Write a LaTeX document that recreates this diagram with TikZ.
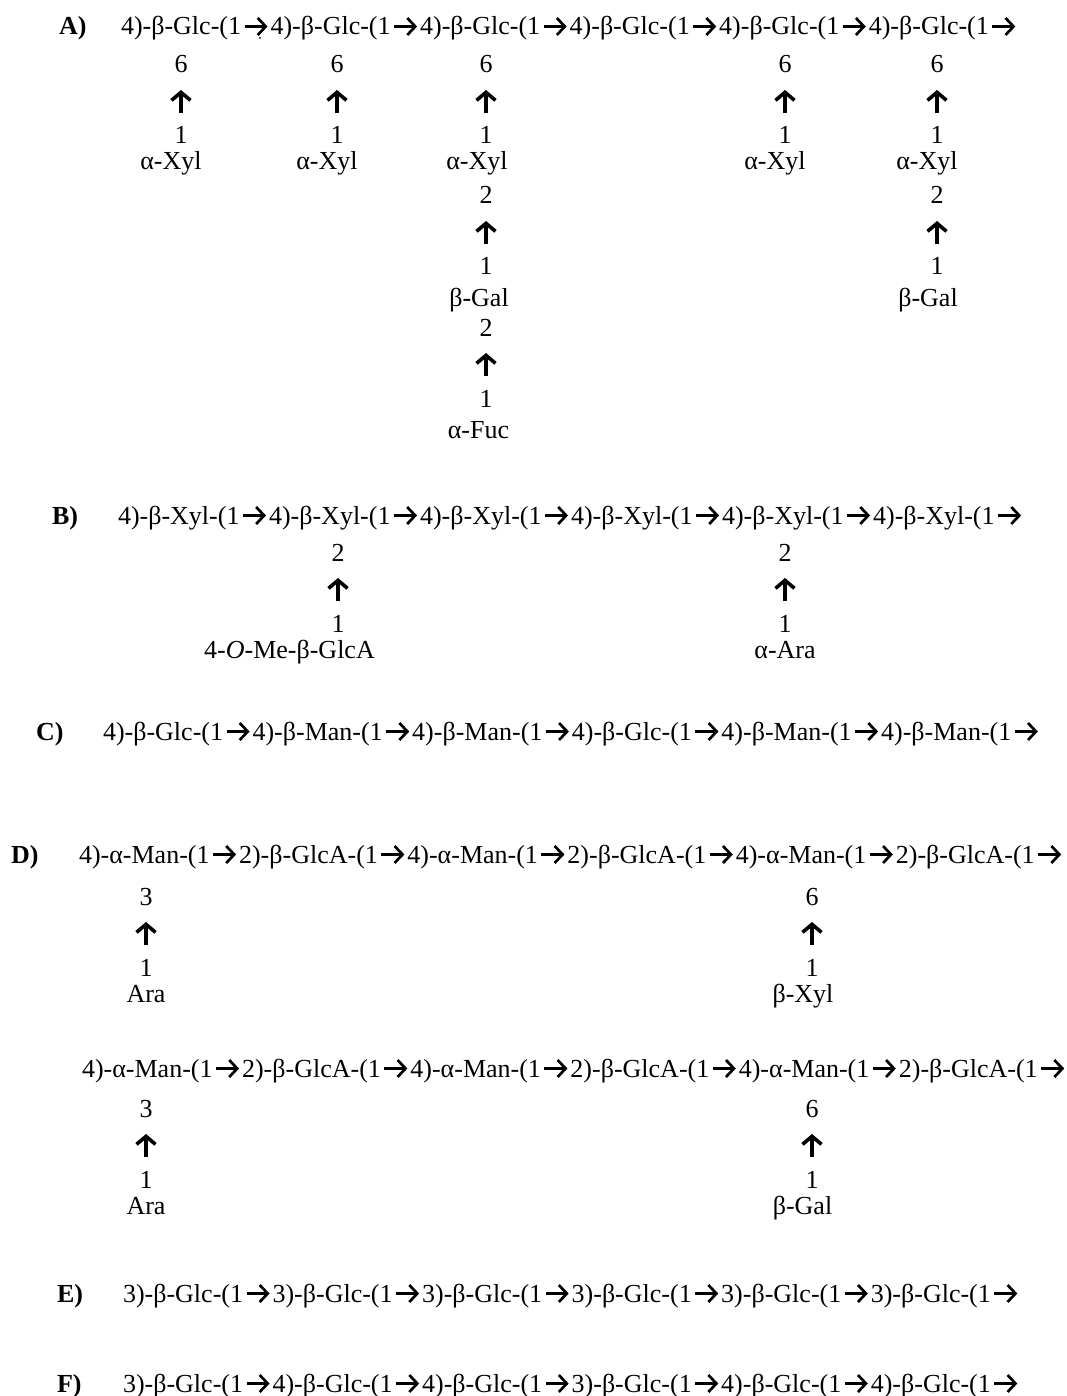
\documentclass[tikz,border=0pt]{standalone}
\usepackage{fontspec}
\setmainfont{Liberation Serif}
\usetikzlibrary{arrows.meta}
\tikzset{
  x=1pt,y=-1pt,
  seg/.style={inner sep=0pt,outer sep=0pt,anchor=base west,font=\fontsize{26}{26}\selectfont},
  lab/.style={inner sep=0pt,outer sep=0pt,anchor=base,font=\fontsize{26}{26}\selectfont},
  letter/.style={inner sep=0pt,outer sep=0pt,anchor=base west,font=\fontsize{26}{26}\selectfont\bfseries},
  bond/.style={line width=2.7pt,shorten <=3.5pt,shorten >=3pt,-{Straight Barb[length=8pt,width=17pt,line width=2.7pt]}},
  up/.style={line width=4.2pt,-{Straight Barb[length=8pt,width=19pt,line width=3.6pt]}}
}
\newcommand{\chainsix}[8]{%
  \node[seg] (#1a) at (#2,#3) {#4};
  \foreach \p/\q/\t in {a/b/#5,b/c/#6,c/d/#7,d/e/#8}{
    \node[seg,at={([xshift=29.5pt]#1\p.base east)}] (#1\q) {\t};
    \draw[bond] ([yshift=8.5pt]#1\p.base east) -- ([yshift=8.5pt]#1\q.base west);
  }%
}
\newcommand{\chainend}[4]{%
  \node[seg,at={([xshift=29.5pt]#1#2.base east)}] (#1#3) {#4};
  \draw[bond] ([yshift=8.5pt]#1#2.base east) -- ([yshift=8.5pt]#1#3.base west);
  \coordinate (#1z) at ([xshift=29.5pt,yshift=8.5pt]#1#3.base east);
  \draw[bond] ([yshift=8.5pt]#1#3.base east) -- (#1z);
}
\newcommand{\link}[5]{%
  \node[lab] (#1u) at (#2,#3) {#4};
  \node[lab] (#1l) at (#2,#3+71) {#5};
  \coordinate (#1s) at (#2,#3+40);
  \coordinate (#1t) at (#2,#3+17);
  \draw[up] (#1s) -- (#1t);
}
\begin{document}
\begin{tikzpicture}
\useasboundingbox (0,0) rectangle (1066,1396);
% A
\node[letter] (LA) at (59,35) {A)};
\chainsix{A}{121}{35}{4)-β-Glc-(1}{4)-β-Glc-(1}{4)-β-Glc-(1}{4)-β-Glc-(1}{4)-β-Glc-(1}
\chainend{A}{e}{f}{4)-β-Glc-(1}
\fill (260,38) circle (1pt);
\link{a1}{181}{73}{6}{1}
\link{a2}{337}{73}{6}{1}
\link{a3}{486}{73}{6}{1}
\link{a4}{785}{73}{6}{1}
\link{a5}{937}{73}{6}{1}
\node[lab] (a1x) at (171,170) {α-Xyl};
\node[lab] (a2x) at (327,170) {α-Xyl};
\node[lab] (a3x) at (477,170) {α-Xyl};
\node[lab] (a4x) at (775,170) {α-Xyl};
\node[lab] (a5x) at (927,170) {α-Xyl};
\link{a6}{486}{204}{2}{1}
\link{a7}{937}{204}{2}{1}
\node[lab] (a6x) at (479,306) {β-Gal};
\node[lab] (a7x) at (928,306) {β-Gal};
\link{a8}{486}{336}{2}{1}
\node[lab] (a8x) at (478.5,438) {α-Fuc};
% B
\node[letter] (LB) at (52,524) {B)};
\chainsix{B}{118}{524}{4)-β-Xyl-(1}{4)-β-Xyl-(1}{4)-β-Xyl-(1}{4)-β-Xyl-(1}{4)-β-Xyl-(1}
\chainend{B}{e}{f}{4)-β-Xyl-(1}
\link{b1}{338}{561}{2}{1}
\link{b2}{785}{561}{2}{1}
\node[lab] (b1x) at (289.5,658) {4-\textit{O}-Me-β-GlcA};
\node[lab] (b2x) at (785,658) {α-Ara};
% C
\node[letter] (LC) at (36,740) {C)};
\chainsix{C}{103}{740}{4)-β-Glc-(1}{4)-β-Man-(1}{4)-β-Man-(1}{4)-β-Glc-(1}{4)-β-Man-(1}
\chainend{C}{e}{f}{4)-β-Man-(1}
% D
\node[letter] (LD) at (11,863) {D)};
\chainsix{D}{79}{863}{4)-α-Man-(1}{2)-β-GlcA-(1}{4)-α-Man-(1}{2)-β-GlcA-(1}{4)-α-Man-(1}
\chainend{D}{e}{f}{2)-β-GlcA-(1}
\link{d1}{146}{905}{3}{1}
\link{d2}{812}{905}{6}{1}
\node[lab] (d1x) at (146,1002) {Ara};
\node[lab] (d2x) at (803,1002) {β-Xyl};
\chainsix{G}{82}{1077}{4)-α-Man-(1}{2)-β-GlcA-(1}{4)-α-Man-(1}{2)-β-GlcA-(1}{4)-α-Man-(1}
\chainend{G}{e}{f}{2)-β-GlcA-(1}
\link{g1}{146}{1117}{3}{1}
\link{g2}{812}{1117}{6}{1}
\node[lab] (g1x) at (146,1214) {Ara};
\node[lab] (g2x) at (802.5,1214) {β-Gal};
% E
\node[letter] (LE) at (57,1302) {E)};
\chainsix{E}{123}{1302}{3)-β-Glc-(1}{3)-β-Glc-(1}{3)-β-Glc-(1}{3)-β-Glc-(1}{3)-β-Glc-(1}
\chainend{E}{e}{f}{3)-β-Glc-(1}
% F
\node[letter] (LF) at (57,1392) {F)};
\chainsix{F}{123}{1392}{3)-β-Glc-(1}{4)-β-Glc-(1}{4)-β-Glc-(1}{3)-β-Glc-(1}{4)-β-Glc-(1}
\chainend{F}{e}{f}{4)-β-Glc-(1}
\end{tikzpicture}
\end{document}
